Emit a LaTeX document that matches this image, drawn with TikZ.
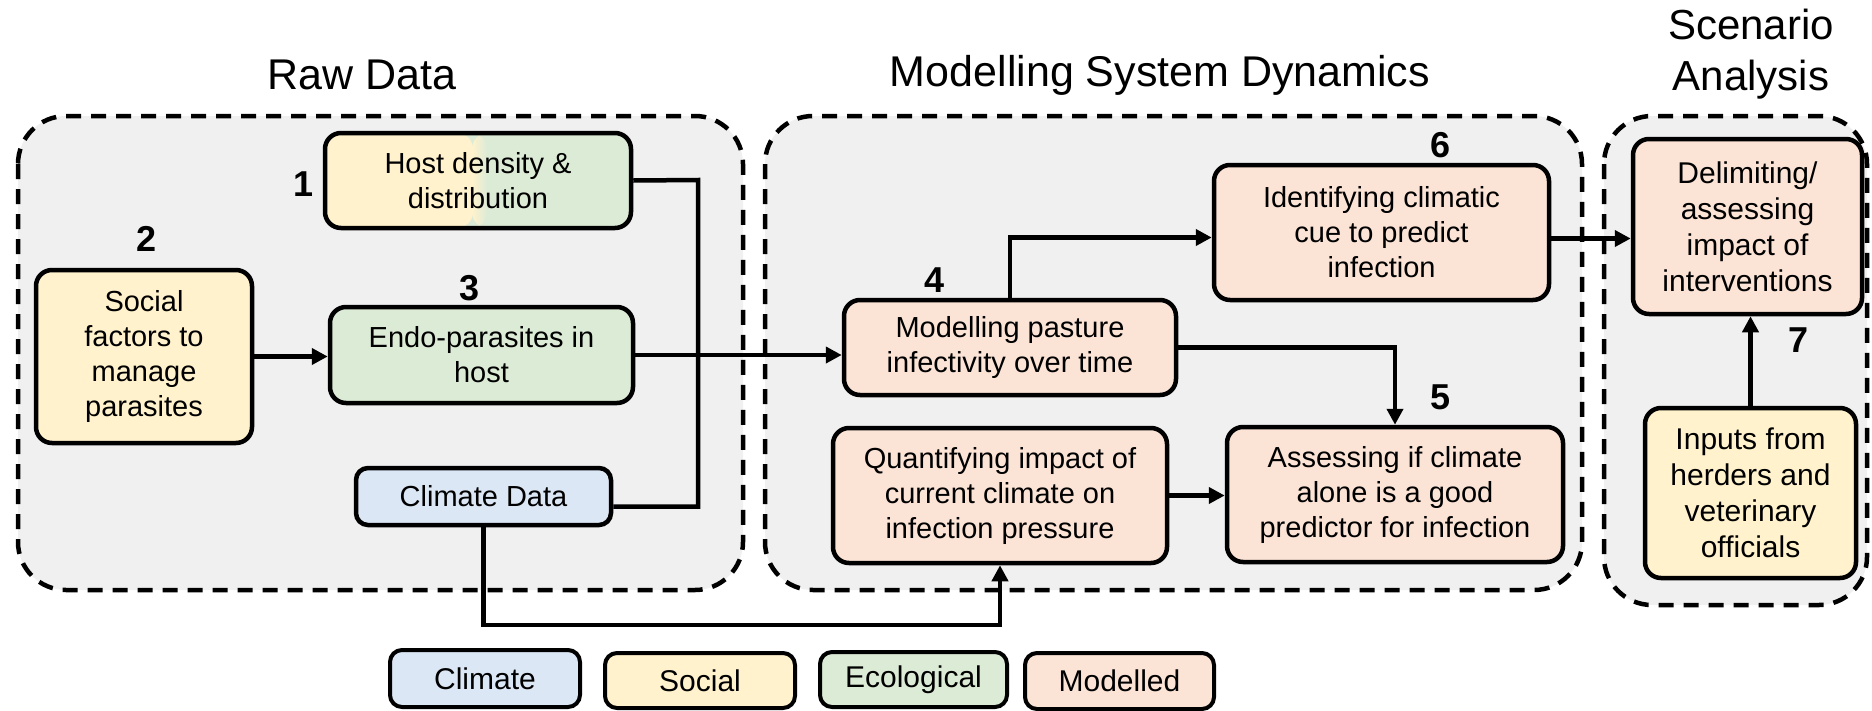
\documentclass[tikz,border=0pt]{standalone}
\usepackage{fontspec}
\setmainfont{Liberation Sans}
\usetikzlibrary{arrows.meta}

\definecolor{zonegray}{HTML}{F0F0F0}
\definecolor{socialc}{HTML}{FFF2CC}
\definecolor{ecoc}{HTML}{DCEBD6}
\definecolor{climc}{HTML}{DCE7F5}
\definecolor{modc}{HTML}{FBE3D6}

\newcommand\boxfont{\fontsize{29}{35}\selectfont}
\newcommand\scenfont{\fontsize{30}{36}\selectfont}
\newcommand\legfont{\fontsize{30}{36}\selectfont}
\newcommand\numfont{\fontsize{36}{40}\selectfont\bfseries}
\newcommand\ttlfont{\fontsize{43}{48}\selectfont}
\newcommand\scttlfont{\fontsize{42}{48}\selectfont}

\tikzset{
  box/.style={draw=black, line width=4.5pt, rounded corners=16pt, align=center,
    font=\boxfont, inner sep=0pt},
  legbox/.style={draw=black, line width=4pt, rounded corners=12pt, align=center,
    font=\legfont, inner sep=0pt},
  arr/.style={line width=4.5pt, -{Triangle[length=16pt,width=16pt]}},
  link/.style={line width=4.5pt},
  num/.style={font=\numfont, inner sep=0pt},
  ttl/.style={font=\ttlfont, inner sep=0pt},
  zone/.style={draw=black, line width=4.5pt, dash pattern=on 15pt off 10pt,
    fill=zonegray, rounded corners=48pt},
}

\begin{document}
\begin{tikzpicture}[x=1pt, y=-1pt]
\useasboundingbox[fill=white] (0,0) rectangle (1872,710);

% dashed group panels
\draw[zone] (18,116) rectangle (743,590);
\draw[zone] (765,116) rectangle (1582,590);
\draw[zone] (1604,116) rectangle (1867,605);

% panel titles
\node[ttl] (tRaw) at (362,75) {Raw Data};
\node[ttl] (tMod) at (1160,75) {Modelling System Dynamics};
\node[ttl, font=\scttlfont] (tScen) at (1751,24) {Scenario};
\node[ttl, font=\scttlfont] (tAna) at (1751,80) {Analysis};

% raw data boxes
\node[box, fill=ecoc, minimum width=306pt, minimum height=95pt,
  path picture={
    \fill[socialc] (path picture bounding box.south west) rectangle
      ([xshift=148pt]path picture bounding box.north west);
    \shade[left color=socialc, right color=ecoc]
      ([xshift=147pt]path picture bounding box.south west) rectangle
      ([xshift=162pt]path picture bounding box.north west);
  }] (host) at (478,180.5) {Host density \&\\distribution};
\node[box, fill=socialc, minimum width=216pt, minimum height=173pt]
  (social) at (144,356.5) {Social\\factors to\\manage\\parasites};
\node[box, fill=ecoc, minimum width=303pt, minimum height=96pt]
  (endo) at (481.5,355) {Endo-parasites in\\host};
\node[box, fill=climc, minimum width=255pt, minimum height=57pt, rounded corners=12pt]
  (climd) at (483.5,496.5) {Climate Data};

% modelling boxes
\node[box, fill=modc, minimum width=332pt, minimum height=95pt]
  (pasture) at (1010,347.5) {Modelling pasture\\infectivity over time};
\node[box, fill=modc, minimum width=335pt, minimum height=135pt]
  (cue) at (1381.5,232.5) {Identifying climatic\\cue to predict\\infection};
\node[box, fill=modc, minimum width=334pt, minimum height=135pt]
  (quant) at (1000,495.5) {Quantifying impact of\\current climate on\\infection pressure};
\node[box, fill=modc, minimum width=336pt, minimum height=135pt]
  (assess) at (1395,494.5) {Assessing if climate\\alone is a good\\predictor for infection};

% scenario boxes
\node[box, fill=modc, minimum width=229pt, minimum height=175pt, font=\scenfont]
  (delim) at (1747.5,226.5) {Delimiting/\\assessing\\impact of\\interventions};
\node[box, fill=socialc, minimum width=211pt, minimum height=170pt, font=\scenfont]
  (inputs) at (1750.5,493) {Inputs from\\herders and\\veterinary\\officials};

% step numbers
\node[num] (n1) at (304,184) {1};
\node[num] (n2) at (147,239) {2};
\node[num] (n3) at (470,288) {3};
\node[num] (n4) at (935,280) {4};
\node[num] (n5) at (1440,397) {5};
\node[num] (n6) at (1440,145) {6};
\node[num] (n7) at (1798,340) {7};

% helper points for routed connectors
\coordinate (bracket) at (698,180);
\coordinate (loop) at (0,625);

% connectors
\draw[arr] (social.east) -- (social.east -| endo.west);
\draw[arr] (endo.east) -- (endo.east -| pasture.west);
\draw[link] (host.east) -- (bracket) |- ([yshift=-10pt]climd.east);
\draw[arr] (climd.south) -- (climd.south |- loop) -| (quant.south);
\draw[arr] (pasture.north) |- ([yshift=-5pt]cue.west);
\draw[arr] (pasture.east) -| (assess.north);
\draw[arr] (quant.east) -- (quant.east -| assess.west);
\draw[arr] ([yshift=-6pt]cue.east) -- ([yshift=-6pt]cue.east -| delim.west);
\draw[arr] (inputs.north) -- (inputs.north |- delim.south);

% legend
\node[legbox, fill=climc, minimum width=190pt, minimum height=57pt] (lgClim) at (485,678.5) {Climate};
\node[legbox, fill=socialc, minimum width=190pt, minimum height=55pt] (lgSoc) at (700,680.5) {Social};
\node[legbox, fill=ecoc, minimum width=187pt, minimum height=55pt] (lgEco) at (913.5,679.5) {Ecological};
\node[legbox, fill=modc, minimum width=189pt, minimum height=56pt] (lgMod) at (1119.5,681) {Modelled};
\end{tikzpicture}
\end{document}
